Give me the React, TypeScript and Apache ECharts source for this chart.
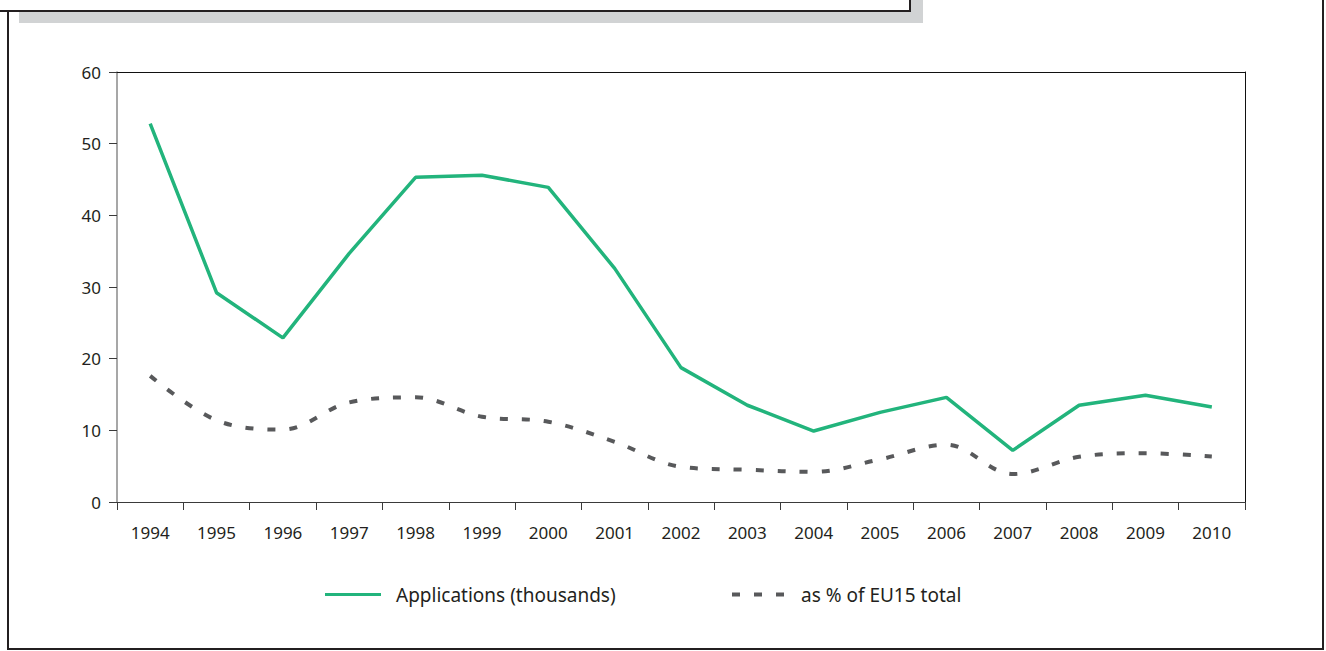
import React, { useEffect, useRef } from "react";
import * as echarts from "echarts";

const years = ["1994","1995","1996","1997","1998","1999","2000","2001","2002","2003","2004","2005","2006","2007","2008","2009","2010"];
const applications = [52.8, 29.2, 22.9, 34.7, 45.3, 45.6, 43.9, 32.6, 18.75, 13.5, 9.9, 12.5, 14.6, 7.2, 13.5, 14.9, 13.25];
const shareEU15 = [17.6, 11.4, 10.1, 13.9, 14.6, 11.9, 11.2, 8.4, 4.9, 4.5, 4.2, 5.95, 8.0, 3.9, 6.3, 6.8, 6.35];
const seriesNames = ["Applications (thousands)", "as % of EU15 total"];

const GREEN = "#22b47c";
const GREY = "#58595b";
const TEXT = "#231f20";
const FONT = "Noto Sans";

const solidIcon = "path://M0,0h56v3h-56z";
const dashIcon = "path://M0,0h8v4h-8z M22,0h8v4h-8z M44,0h8v4h-8z";

export default function App() {
  const ref = useRef<HTMLDivElement>(null);
  useEffect(() => {
    if (!ref.current) return;
    const chart = echarts.init(ref.current, null, { renderer: "svg" });
    chart.setOption({
      animation: false,
      backgroundColor: "#ffffff",
      textStyle: { fontFamily: FONT, color: TEXT },
      grid: { left: 117, right: 81, top: 72, bottom: 149, containLabel: false },
      legend: [
        {
          data: [{ name: seriesNames[0], icon: solidIcon }],
          left: 325,
          top: 585,
          padding: 0,
          itemWidth: 56,
          itemHeight: 3,
          textStyle: { fontFamily: FONT, fontSize: 19, color: TEXT, padding: [0, 0, 0, 10] },
          selectedMode: false,
        },
        {
          data: [{ name: seriesNames[1], icon: dashIcon }],
          left: 732,
          top: 585,
          padding: 0,
          itemWidth: 52,
          itemHeight: 4,
          textStyle: { fontFamily: FONT, fontSize: 19, color: TEXT, padding: [0, 0, 0, 12] },
          selectedMode: false,
        },
      ],
      xAxis: [
        {
          type: "category",
          data: years,
          boundaryGap: true,
          axisLine: { lineStyle: { color: "#3a3a3a", width: 1 } },
          axisTick: { show: true, inside: false, length: 8, lineStyle: { color: "#3a3a3a" }, alignWithLabel: false },
          axisLabel: { fontFamily: FONT, fontSize: 17, color: TEXT, margin: 22, interval: 0 },
          splitLine: { show: false },
        },
        {
          type: "category",
          data: years,
          position: "top",
          axisLine: { show: true, onZero: false, lineStyle: { color: "#111111", width: 1 } },
          axisTick: { show: false },
          axisLabel: { show: false },
          splitLine: { show: false },
        },
      ],
      yAxis: [
        {
          type: "value",
          min: 0,
          max: 60,
          interval: 10,
          axisLine: { show: true, lineStyle: { color: "#8a8a8a", width: 1.5 } },
          axisTick: { show: true, length: 8, lineStyle: { color: "#3a3a3a" } },
          axisLabel: { fontFamily: FONT, fontSize: 17, color: TEXT, margin: 16 },
          splitLine: { show: false },
        },
        {
          type: "value",
          min: 0,
          max: 60,
          interval: 10,
          position: "right",
          axisLine: { show: true, onZero: false, lineStyle: { color: "#111111", width: 1 } },
          axisTick: { show: false },
          axisLabel: { show: false },
          splitLine: { show: false },
        },
      ],
      series: [
        {
          name: seriesNames[0],
          type: "line",
          data: applications,
          symbol: "none",
          lineStyle: { color: GREEN, width: 3.5 },
          itemStyle: { color: GREEN },
          z: 3,
        },
        {
          name: seriesNames[1],
          type: "line",
          data: shareEU15,
          symbol: "none",
          smooth: 0.35,
          lineStyle: { color: GREY, width: 4, type: [8, 14] },
          itemStyle: { color: GREY },
          z: 2,
        },
      ],
      graphic: [
        {
          type: "rect",
          z: 1,
          silent: true,
          shape: { x: 8, y: -20, width: 1315, height: 669 },
          style: { fill: "none", stroke: "#231f20", lineWidth: 2 },
        },
        {
          type: "rect",
          z: 5,
          silent: true,
          shape: { x: 19, y: -20, width: 904, height: 43 },
          style: { fill: "#d1d3d4", stroke: "none" },
        },
        {
          type: "rect",
          z: 6,
          silent: true,
          shape: { x: -5, y: -20, width: 915, height: 31 },
          style: { fill: "#ffffff", stroke: "#231f20", lineWidth: 2 },
        },
      ],
    });
    return () => chart.dispose();
  }, []);
  return <div ref={ref} style={{ position: "fixed", left: 0, top: 0, width: 1326, height: 651 }} />;
}
